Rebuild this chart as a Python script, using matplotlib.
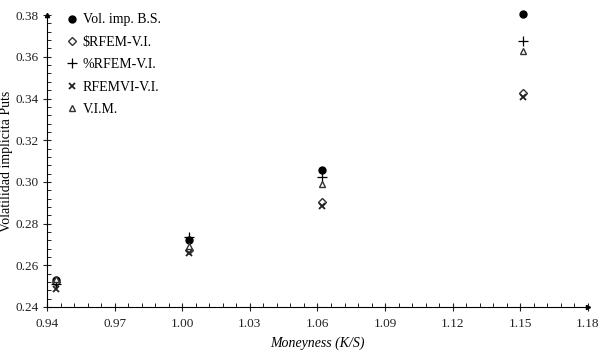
import matplotlib.pyplot as plt
import numpy as np
from matplotlib.ticker import FixedLocator, MultipleLocator, FormatStrFormatter

plt.rcParams['font.family'] = ['Liberation Serif', 'DejaVu Serif']

# moneyness (K/S)
moneyness = [0.944, 1.003, 1.062, 1.151]

# implied vols per method
vol_bs = [0.2530, 0.2720, 0.3055, 0.3805]
rfem_d = [0.2520, 0.2675, 0.2905, 0.3425]
rfem_p = [0.2510, 0.2735, 0.3025, 0.3675]
rfemvi = [0.2485, 0.2660, 0.2885, 0.3405]
vim = [0.2535, 0.2690, 0.2990, 0.3630]

labels = ['Vol. imp. B.S.', r'\$RFEM-V.I.', '%RFEM-V.I.', 'RFEMVI-V.I.', 'V.I.M.']

fig = plt.figure(figsize=(6.03, 3.52), dpi=100)
ax = fig.add_axes([0.078, 0.128, 0.897, 0.829])

kw = dict(clip_on=False, ls='none')
ax.plot(moneyness, vol_bs, 'o', color='black', ms=5, label=labels[0], **kw)
ax.plot(moneyness, rfem_d, 'D', mfc='white', mec='#333333', mew=1.0, ms=4, label=labels[1], **kw)
ax.plot(moneyness, rfem_p, '+', color='black', ms=7, mew=0.9, label=labels[2], **kw)
ax.plot(moneyness, rfemvi, 'x', color='#222222', ms=5, mew=1.3, label=labels[3], **kw)
ax.plot(moneyness, vim, '^', mfc='white', mec='#333333', mew=1.0, ms=5, label=labels[4], **kw)

ax.set_xlim(0.94, 1.18)
ax.set_ylim(0.24, 0.38)
ax.xaxis.set_major_locator(FixedLocator(np.arange(0.94, 1.1801, 0.03)))
ax.xaxis.set_minor_locator(FixedLocator(np.arange(0.94, 1.1801, 0.006)))
ax.yaxis.set_major_locator(MultipleLocator(0.02))
ax.yaxis.set_minor_locator(MultipleLocator(0.004))
ax.xaxis.set_major_formatter(FormatStrFormatter('%.2f'))
ax.yaxis.set_major_formatter(FormatStrFormatter('%.2f'))
ax.tick_params(which='major', direction='inout', length=6, width=0.8, labelsize=9.5,
               colors='#222222', pad=3)
ax.tick_params(axis='x', which='major', pad=5)
ax.tick_params(which='minor', direction='in', length=3, width=0.7, colors='#222222')

for s in ['top', 'right']:
    ax.spines[s].set_visible(False)
for s in ['left', 'bottom']:
    ax.spines[s].set_linewidth(0.8)

# axis arrows
ax.plot(1, 0, '>', color='black', ms=3, transform=ax.transAxes, clip_on=False)
ax.plot(0, 1, '^', color='black', ms=3, transform=ax.transAxes, clip_on=False)

ax.set_xlabel('Moneyness (K/S)', fontstyle='italic', fontsize=10, labelpad=5)
ax.set_ylabel('Volatilidad implícita Puts', fontsize=10, labelpad=2)

ax.legend(loc='upper left', bbox_to_anchor=(0.02, 1.025), frameon=False, fontsize=10,
          handletextpad=0.2, labelspacing=0.68, handlelength=1.2, borderaxespad=0)

fig.savefig('out.png', dpi=100)
